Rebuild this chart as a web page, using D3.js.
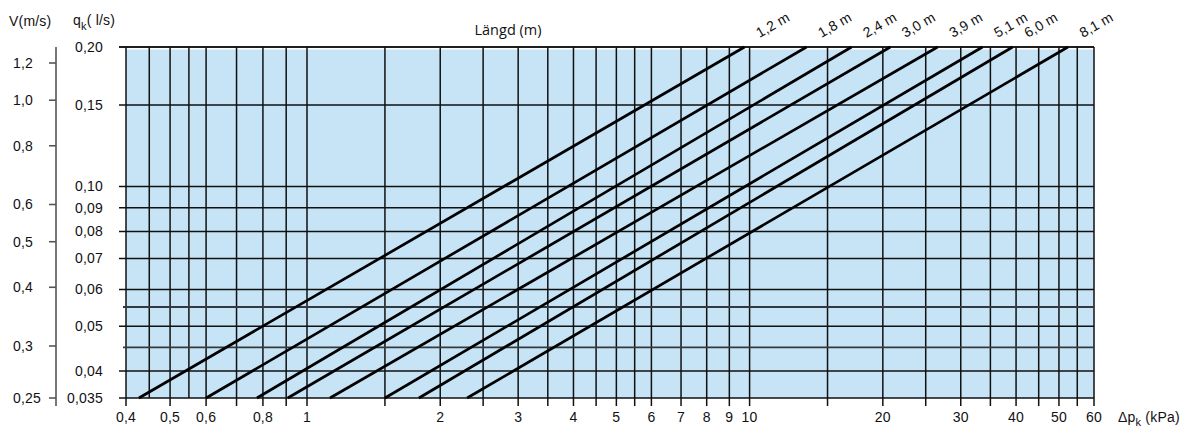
<!DOCTYPE html>
<html lang="sv">
<head>
    <meta charset="UTF-8">
    <title>Längd diagram</title>
    <script src="https://d3js.org/d3.v7.min.js"></script>
    <style>
        body { margin: 0; background: #fff; }
        svg text { font-family: "Liberation Sans", Arial, sans-serif; fill: #111; font-size: 14px; letter-spacing: 0.2px; }
    </style>
</head>
<body>
    <svg id="chart"></svg>

    <script>
        // tryckfall (kPa) - vertikala linjer, och de som har etikett
        const dpGrid = [0.4, 0.45, 0.5, 0.55, 0.6, 0.7, 0.8, 0.9, 1, 1.5, 2, 2.5, 3, 3.5, 4, 4.5, 5, 5.5, 6, 7, 8, 9, 10,
                        15, 20, 25, 30, 35, 40, 45, 50, 55, 60];
        const dpTicks = [0.4, 0.5, 0.6, 0.8, 1, 2, 3, 4, 5, 6, 7, 8, 9, 10, 20, 30, 40, 50, 60];
        const dpLabels = ['0,4', '0,5', '0,6', '0,8', '1', '2', '3', '4', '5', '6', '7', '8', '9', '10', '20', '30', '40', '50', '60'];

        // flöde q (l/s) - horisontella linjer
        const qGrid = [0.035, 0.04, 0.045, 0.05, 0.055, 0.06, 0.07, 0.08, 0.09, 0.10, 0.15, 0.20];
        const qTicks = [0.035, 0.04, 0.05, 0.06, 0.07, 0.08, 0.09, 0.10, 0.15, 0.20];
        const qLabels = ['0,035', '0,04', '0,05', '0,06', '0,07', '0,08', '0,09', '0,10', '0,15', '0,20'];

        // hastighet V (m/s)
        const vTicks = [0.25, 0.3, 0.4, 0.5, 0.6, 0.8, 1.0, 1.2];
        const vLabels = ['0,25', '0,3', '0,4', '0,5', '0,6', '0,8', '1,0', '1,2'];

        // längder, tryckfall vid q = 0,035 och vid q = 0,20
        const lengths = ['1,2 m', '1,8 m', '2,4 m', '3,0 m', '3,9 m', '5,1 m', '6,0 m', '8,1 m'];
        const dpAtLowQ = [0.427, 0.60, 0.776, 0.907, 1.127, 1.50, 1.79, 2.30];
        const dpAtHighQ = [9.74, 13.45, 17.0, 20.8, 26.6, 33.6, 39.3, 52.4];

        const W = 1183, H = 430;
        const svg = d3.select('#chart').attr('width', W).attr('height', H);

        // skalorna är logaritmiska
        const x = d3.scaleLog().domain([0.4, 1, 60]).range([126, 307, 1094]);
        const y = d3.scaleLog().domain([0.035, 0.2]).range([398, 47]);
        const v = d3.scaleLog().domain([0.25, 0.3, 1.2]).range([398, 346, 63]);

        const pLeft = x(0.4), pRight = x(60), pTop = y(0.2), pBottom = y(0.035);

        // bakgrund
        svg.append('rect')
            .attr('x', pLeft)
            .attr('y', pTop + 2.5)
            .attr('width', pRight - pLeft)
            .attr('height', pBottom - pTop - 2.5)
            .attr('fill', '#c6e4f5');

        // vertikala rutnätslinjer
        svg.append('g')
            .selectAll('line')
            .data(dpGrid)
            .join('line')
            .attr('x1', d => x(d)).attr('x2', d => x(d))
            .attr('y1', pTop)
            .attr('y2', d => (d === 0.45 || d === 0.55) ? pBottom : pBottom + 8)
            .attr('stroke', '#111')
            .attr('stroke-width', 1.5);

        // horisontella rutnätslinjer
        svg.append('g')
            .selectAll('line')
            .data(qGrid)
            .join('line')
            .attr('x1', d => qTicks.includes(d) ? pLeft - 7 : pLeft - 3)
            .attr('x2', pRight)
            .attr('y1', d => y(d)).attr('y2', d => y(d))
            .attr('stroke', d => qTicks.includes(d) ? '#111' : '#333a3f')
            .attr('stroke-width', d => qTicks.includes(d) ? 1.5 : 1.9);

        // övre kant
        svg.append('line')
            .attr('x1', pLeft - 7).attr('x2', pRight)
            .attr('y1', pTop).attr('y2', pTop)
            .attr('stroke', '#111').attr('stroke-width', 1.6);

        // längdlinjer
        const lineData = lengths.map((name, i) => ({
            name: name,
            pts: [[dpAtLowQ[i], 0.035], [dpAtHighQ[i], 0.2]]
        }));

        const line = d3.line().x(d => x(d[0])).y(d => y(d[1]));

        svg.append('g')
            .selectAll('path')
            .data(lineData)
            .join('path')
            .attr('d', d => line(d.pts))
            .attr('fill', 'none')
            .attr('stroke', '#000')
            .attr('stroke-width', 2.7);

        // etiketter för längderna
        svg.append('g')
            .selectAll('text')
            .data(lineData)
            .join('text')
            .attr('transform', d => `translate(${x(d.pts[1][0]) + 15},38) rotate(-30)`)
            .text(d => d.name);

        // x-etiketter
        svg.append('g')
            .selectAll('text')
            .data(dpTicks)
            .join('text')
            .attr('x', d => x(d))
            .attr('y', 422)
            .attr('text-anchor', 'middle')
            .text((d, i) => dpLabels[i]);

        // q-etiketter
        svg.append('g')
            .selectAll('text')
            .data(qTicks)
            .join('text')
            .attr('x', 103)
            .attr('y', d => y(d))
            .attr('dy', '0.35em')
            .attr('text-anchor', 'end')
            .text((d, i) => qLabels[i]);

        // V-axel
        svg.append('line')
            .attr('x1', 56).attr('x2', 56)
            .attr('y1', pTop).attr('y2', pBottom + 8)
            .attr('stroke', '#555').attr('stroke-width', 1.6);

        svg.append('g')
            .selectAll('line')
            .data(vTicks)
            .join('line')
            .attr('x1', 49).attr('x2', 56)
            .attr('y1', d => v(d)).attr('y2', d => v(d))
            .attr('stroke', '#555').attr('stroke-width', 1.6);

        svg.append('g')
            .selectAll('text')
            .data(vTicks)
            .join('text')
            .attr('x', 13)
            .attr('y', d => v(d))
            .attr('dy', '0.35em')
            .text((d, i) => vLabels[i]);

        // axeltitlar
        svg.append('text')
            .attr('x', 9).attr('y', 26)
            .text('V(m/s)');

        const qTitle = svg.append('text')
            .attr('x', 73).attr('y', 25);
        qTitle.append('tspan').text('q');
        qTitle.append('tspan').attr('dy', 5).style('font-size', '11px').text('k');
        qTitle.append('tspan').attr('dy', -5).text('( l/s)');

        svg.append('text')
            .attr('x', 508).attr('y', 35)
            .attr('text-anchor', 'middle')
            .style('font-size', '14.5px')
            .style('letter-spacing', '0px')
            .style('font-family', '"Open Sans", sans-serif')
            .text('Längd (m)');

        const dpTitle = svg.append('text')
            .attr('x', 1118).attr('y', 422);
        dpTitle.append('tspan').text('Δp');
        dpTitle.append('tspan').attr('dy', 4).style('font-size', '11px').text('k');
        dpTitle.append('tspan').attr('dy', -4).text(' (kPa)');
    </script>
</body>
</html>
